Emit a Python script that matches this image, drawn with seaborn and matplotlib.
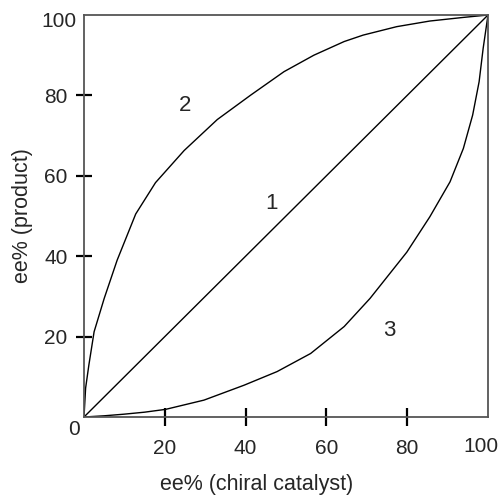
import matplotlib
matplotlib.use("Agg")
import matplotlib.pyplot as plt
import seaborn as sns
import pandas as pd

# Curve 1: linear (no nonlinear effect)
c1_x = [0, 100]
c1_y = [0, 100]
# Curve 2: positive nonlinear effect
c2_x = [0, 0.4, 1.2, 2.5, 5, 8.2, 12.8, 17.7, 24.8, 33, 41.3, 49.5, 56.9, 64.4, 69.1, 77.4, 85.6, 93.9, 100]
c2_y = [0, 7.2, 12.9, 21.2, 29.5, 39, 50.5, 58.3, 66.3, 74.0, 80.1, 85.9, 90.0, 93.4, 95, 97.1, 98.5, 99.4, 100]
# Curve 3: negative nonlinear effect
c3_x = [0, 5, 9.9, 15, 20.2, 29.7, 39.6, 47.8, 56.1, 64.4, 70.8, 79.9, 85.6, 90.6, 93.9, 96.2, 97.8, 98.8, 100]
c3_y = [0, 0.3, 0.7, 1.2, 1.9, 4.2, 7.9, 11.3, 15.8, 22.5, 29.5, 41, 49.8, 58.5, 66.8, 75.1, 83.4, 91.7, 100]

curve_labels = ["1", "2", "3"]
label_x = [46.3, 25, 75.5]
label_y = [53.2, 77.6, 21.6]

xticks = [20, 40, 60, 80]
yticks = [20, 40, 60, 80]
xlabel = "ee% (chiral catalyst)"
ylabel = "ee% (product)"

df = pd.concat([
    pd.DataFrame({"x": c1_x, "y": c1_y, "curve": "1"}),
    pd.DataFrame({"x": c2_x, "y": c2_y, "curve": "2"}),
    pd.DataFrame({"x": c3_x, "y": c3_y, "curve": "3"}),
], ignore_index=True)

sns.set_theme(style="white")
plt.rcParams['font.family'] = ['Liberation Sans', 'DejaVu Sans']

fig = plt.figure(figsize=(5.02, 4.99), dpi=100)
ax = fig.add_axes([84/502, 82/499, 404/502, 402/499])

sns.lineplot(data=df, x="x", y="y", hue="curve", units="curve", estimator=None,
             palette=["black", "black", "black"], linewidth=1.0, legend=False, ax=ax)

ax.set_xlim(0, 100)
ax.set_ylim(0, 100)

for s in ax.spines.values():
    s.set_color("#555555")
    s.set_linewidth(1.3)

ax.set_xticks(xticks)
ax.set_xticklabels([str(t) for t in xticks])
ax.set_yticks(yticks)
ax.set_yticklabels([str(t) for t in yticks])
ax.tick_params(axis="x", direction="inout", length=13, width=1.6, color="black",
               labelsize=15, pad=9, bottom=True)
ax.tick_params(axis="y", direction="inout", length=11.5, width=1.6, color="black",
               labelsize=15, pad=6, left=True)

ax.text(-2.5, -3, "0", fontsize=15, ha="center", va="center", clip_on=False)
ax.text(-6.2, 98.3, "100", fontsize=15, ha="center", va="center", clip_on=False)
ax.text(98.3, -7.4, "100", fontsize=15, ha="center", va="center", clip_on=False)

for t, lx, ly in zip(curve_labels, label_x, label_y):
    ax.text(lx, ly, t, fontsize=16, ha="center", va="center")

ax.set_xlabel(xlabel, fontsize=15.5, labelpad=12, x=0.428)
ax.set_ylabel(ylabel, fontsize=15.5, labelpad=8)

fig.savefig("out.png", dpi=100)
